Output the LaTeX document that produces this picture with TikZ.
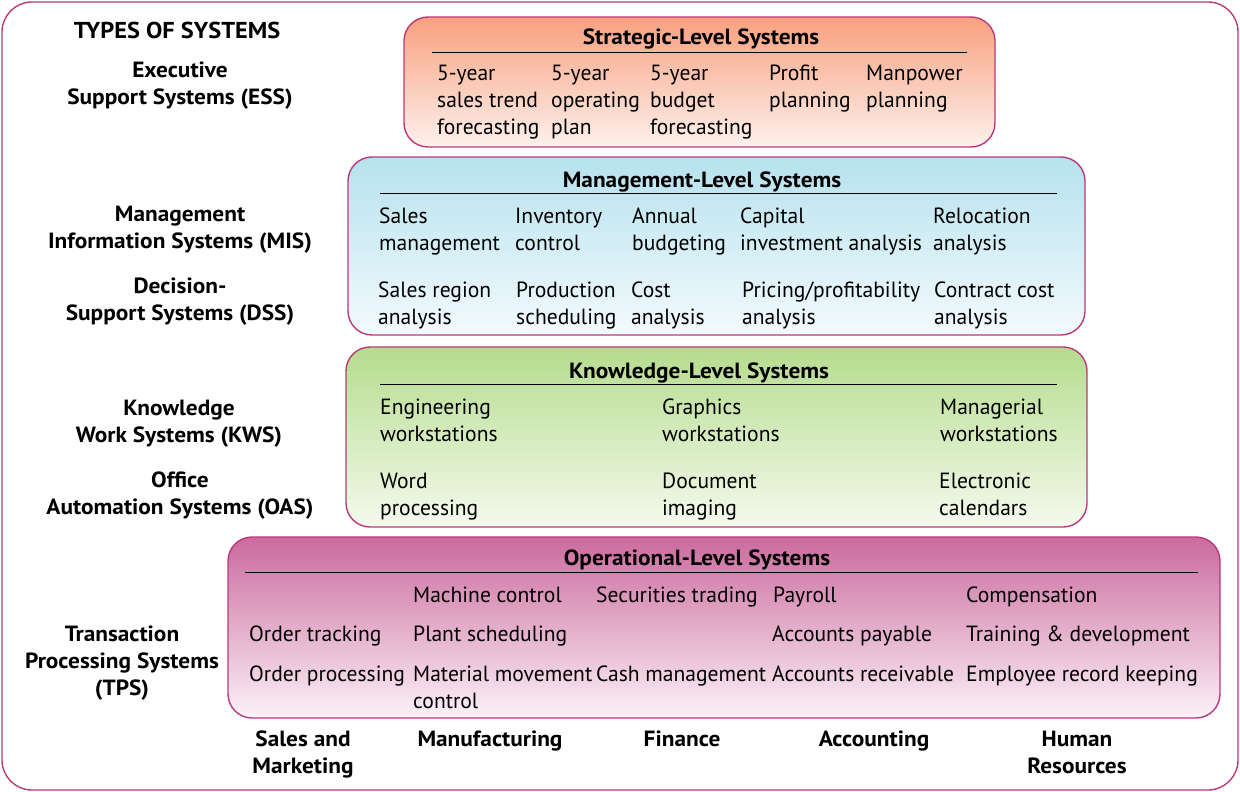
\documentclass[tikz,border=0pt]{standalone}
\usepackage{fontspec}
\setmainfont{PT Sans}[FakeStretch=0.98]
\newfontfamily\headfont{PT Sans}[FakeStretch=1.06]
\definecolor{frame}{HTML}{B83A7A}
\definecolor{stratTop}{HTML}{F9A07F}
\definecolor{stratBot}{HTML}{FDF1EC}
\definecolor{mgmtTop}{HTML}{B6E2EE}
\definecolor{mgmtBot}{HTML}{F3FAFD}
\definecolor{knowTop}{HTML}{B5DC8D}
\definecolor{knowBot}{HTML}{F5FAEE}
\definecolor{operTop}{HTML}{CB6A9E}
\definecolor{operBot}{HTML}{FCF1F7}
\tikzset{
  levelbox/.style={draw=frame, line width=1.4pt, rounded corners=24pt},
  itemtxt/.style={anchor=base west, inner sep=0pt, align=left, font=\fontsize{22}{27}\selectfont},
  titletxt/.style={anchor=base, inner sep=0pt, font=\headfont\bfseries\fontsize{22}{27}\selectfont},
  sidetxt/.style={anchor=base, inner sep=0pt, align=center, font=\headfont\bfseries\fontsize{22}{27}\selectfont},
  rulebar/.style={line width=0.9pt, black}
}
\begin{document}
\begin{tikzpicture}[x=1pt,y=-1pt]
\useasboundingbox (0,0) rectangle (1240,792);
\draw[draw=frame, line width=1.4pt, rounded corners=30pt] (2,2) rectangle (1238,790);

% ---------- Strategic ----------
\shade[levelbox, top color=stratTop, bottom color=stratBot] (404,17) rectangle (995,147);
\node[titletxt] (st) at (701,45) {Strategic-Level Systems};
\coordinate (stL) at (432,52); \coordinate (stR) at (967,52);
\draw[rulebar] (stL) -- (stR);
\node[itemtxt] (s1) at (437,134) {5-year\\sales trend\\forecasting};
\node[itemtxt] (s2) at (551,134) {5-year\\operating\\plan};
\node[itemtxt] (s3) at (650,134) {5-year\\budget\\forecasting};
\node[itemtxt] (s4) at (769,107) {Profit\\planning};
\node[itemtxt] (s5) at (866,107) {Manpower\\planning};

% ---------- Management ----------
\shade[levelbox, top color=mgmtTop, bottom color=mgmtBot] (348,157) rectangle (1085,335);
\node[titletxt] (mt) at (702,187) {Management-Level Systems};
\coordinate (mtL) at (380,193); \coordinate (mtR) at (1057,193);
\draw[rulebar] (mtL) -- (mtR);
\node[itemtxt] (m1) at (379,250) {Sales\\management};
\node[itemtxt] (m2) at (515,250) {Inventory\\control};
\node[itemtxt] (m3) at (632,250) {Annual\\budgeting};
\node[itemtxt] (m4) at (740,250) {Capital\\investment analysis};
\node[itemtxt] (m5) at (933,250) {Relocation\\analysis};
\node[itemtxt] (d1) at (378,324) {Sales region\\analysis};
\node[itemtxt] (d2) at (516,324) {Production\\scheduling};
\node[itemtxt] (d3) at (631,324) {Cost\\analysis};
\node[itemtxt] (d4) at (742,324) {Pricing/profitability\\analysis};
\node[itemtxt] (d5) at (934,324) {Contract cost\\analysis};

% ---------- Knowledge ----------
\shade[levelbox, top color=knowTop, bottom color=knowBot] (346,347) rectangle (1087,527);
\node[titletxt] (kt) at (699,378) {Knowledge-Level Systems};
\coordinate (ktL) at (380,384); \coordinate (ktR) at (1057,384);
\draw[rulebar] (ktL) -- (ktR);
\node[itemtxt] (k1) at (380,441) {Engineering\\workstations};
\node[itemtxt] (k2) at (662,441) {Graphics\\workstations};
\node[itemtxt] (k3) at (940,441) {Managerial\\workstations};
\node[itemtxt] (o1) at (380,515) {Word\\processing};
\node[itemtxt] (o2) at (662,515) {Document\\imaging};
\node[itemtxt] (o3) at (939,515) {Electronic\\calendars};

% ---------- Operational ----------
\shade[levelbox, top color=operTop, bottom color=operBot] (228,537) rectangle (1220,718);
\node[titletxt] (ot) at (697,565) {Operational-Level Systems};
\coordinate (otL) at (245,572); \coordinate (otR) at (1198,572);
\draw[rulebar] (otL) -- (otR);
\node[itemtxt] (p1) at (413,602) {Machine control};
\node[itemtxt] (p2) at (596,602) {Securities trading};
\node[itemtxt] (p3) at (773,602) {Payroll};
\node[itemtxt] (p4) at (966,602) {Compensation};
\node[itemtxt] (q1) at (249,641) {Order tracking};
\node[itemtxt] (q2) at (413,641) {Plant scheduling};
\node[itemtxt] (q3) at (772,641) {Accounts payable};
\node[itemtxt] (q4) at (966,641) {Training \& development};
\node[itemtxt] (r1) at (249,681) {Order processing};
\node[itemtxt] (r2) at (413,708) {Material movement\\control};
\node[itemtxt] (r3) at (596,681) {Cash management};
\node[itemtxt] (r4) at (772,681) {Accounts receivable};
\node[itemtxt] (r5) at (966,681) {Employee record keeping};

% ---------- Left labels ----------
\node[sidetxt, font=\headfont\bfseries\fontsize{23}{27}\selectfont] (types) at (177,39) {TYPES OF SYSTEMS};
\node[sidetxt] (ess) at (180,104) {Executive\\Support Systems (ESS)};
\node[sidetxt] (mis) at (180,248) {Management\\Information Systems (MIS)};
\node[sidetxt] (dss) at (180,320) {Decision-\\Support Systems (DSS)};
\node[sidetxt] (kws) at (179,442) {Knowledge\\Work Systems (KWS)};
\node[sidetxt] (oas) at (180,514) {Office\\Automation Systems (OAS)};
\node[sidetxt] (tps) at (122,695) {Transaction\\Processing Systems\\(TPS)};

% ---------- Bottom labels ----------
\node[sidetxt] (b1) at (303,773) {Sales and\\Marketing};
\node[sidetxt] (b2) at (490,746) {Manufacturing};
\node[sidetxt] (b3) at (682,746) {Finance};
\node[sidetxt] (b4) at (874,746) {Accounting};
\node[sidetxt] (b5) at (1077,773) {Human\\Resources};
\end{tikzpicture}
\end{document}
